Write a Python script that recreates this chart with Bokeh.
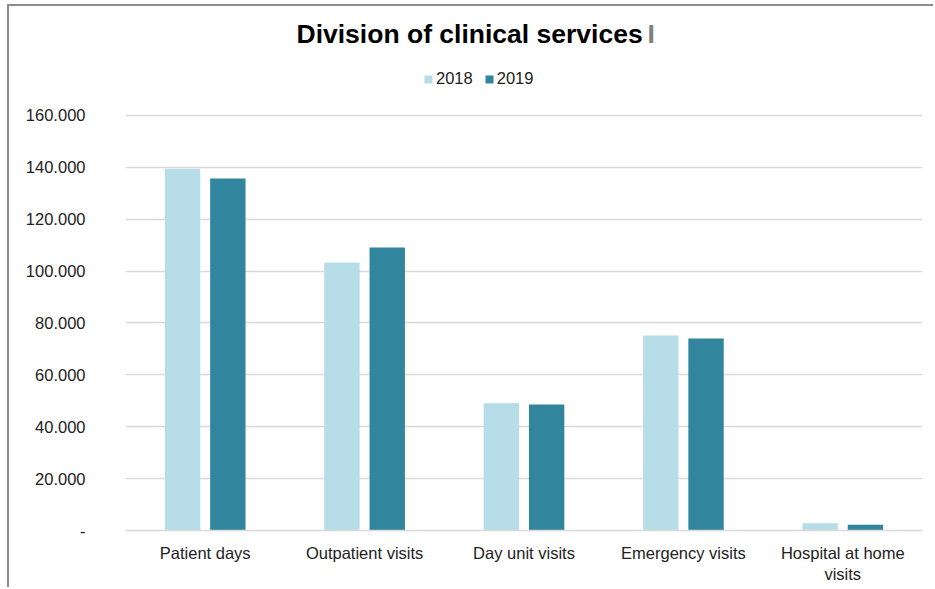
from bokeh.plotting import figure
from bokeh.models import (FactorRange, Legend, LegendItem, Label, ColumnDataSource,
                          FixedTicker, CustomJSTickFormatter, Range1d)
from bokeh.transform import dodge
from bokeh.embed import file_html
from bokeh.resources import INLINE

# ---- data ----
categories = ["Patient days", "Outpatient visits", "Day unit visits",
              "Emergency visits", "Hospital at home\nvisits"]
values_2018 = [139500, 103300, 49100, 75200, 2800]
values_2019 = [135700, 109100, 48600, 74000, 2200]
series_names = ["2018", "2019"]
y_ticks = [0, 20000, 40000, 60000, 80000, 100000, 120000, 140000, 160000]
y_tick_labels = ["-", "20.000", "40.000", "60.000", "80.000", "100.000",
                 "120.000", "140.000", "160.000"]
title_text = "Division of clinical services"
title_suffix = "I"

FONT = "Liberation Sans"
C18 = "#b7dee8"
C19 = "#31859c"
GRID = "#d9d9d9"
FS = "16.5px"

src = ColumnDataSource(dict(cat=categories, v2018=values_2018, v2019=values_2019))

# frame extends up to the top of the canvas so the title and legend sit inside it
p = figure(x_range=FactorRange(*categories), y_range=Range1d(0, 202020),
           width=926, height=583, output_backend="svg", toolbar_location=None,
           min_border_left=116, min_border_right=13, min_border_top=0,
           min_border_bottom=59)

r1 = p.vbar(x=dodge("cat", -0.142, range=p.x_range), top="v2018", width=0.222,
            source=src, fill_color=C18, line_color=None)
r2 = p.vbar(x=dodge("cat", 0.142, range=p.x_range), top="v2019", width=0.222,
            source=src, fill_color=C19, line_color=None)

p.outline_line_color = None
p.xgrid.grid_line_color = None
p.ygrid.grid_line_color = GRID
p.ygrid.grid_line_width = 1.5
p.ygrid.ticker = FixedTicker(ticks=y_ticks)

p.yaxis.ticker = FixedTicker(ticks=y_ticks)
p.yaxis.formatter = CustomJSTickFormatter(
    args=dict(tvals=y_ticks, tlabels=y_tick_labels),
    code="const i = tvals.indexOf(tick); return i >= 0 ? tlabels[i] : '';")
p.yaxis.axis_line_color = None
p.yaxis.major_tick_line_color = None
p.yaxis.minor_tick_line_color = None
p.yaxis.major_label_standoff = 34
p.yaxis.major_label_text_font = FONT
p.yaxis.major_label_text_font_size = FS
p.yaxis.major_label_text_color = "#222222"

p.xaxis.axis_line_color = GRID
p.xaxis.axis_line_width = 1.5
p.xaxis.major_tick_line_color = None
p.xaxis.minor_tick_line_color = None
p.xaxis.major_label_standoff = 7
p.xaxis.major_label_text_font = FONT
p.xaxis.major_label_text_font_size = FS
p.xaxis.major_label_text_color = "#222222"

legend = Legend(items=[LegendItem(label=series_names[0], renderers=[r1]),
                       LegendItem(label=series_names[1], renderers=[r2])],
                orientation="horizontal", location=(298, 442), padding=0, margin=0,
                spacing=11, glyph_width=10, glyph_height=10, label_height=10,
                label_standoff=3, label_text_font=FONT, label_text_font_size=FS,
                label_text_color="#222222", border_line_color=None,
                background_fill_alpha=0)
p.add_layout(legend)

p.add_layout(Label(x=1.0728, y=191600, text=title_text, text_font=FONT,
                   text_font_style="bold", text_font_size="26.5px", text_align="left",
                   text_baseline="alphabetic", text_color="#000000"))
p.add_layout(Label(x=3.2748, y=191600, text=title_suffix, text_font=FONT,
                   text_font_style="bold", text_font_size="26.5px", text_align="left",
                   text_baseline="alphabetic", text_color="#808080"))

p.styles = {"border-top": "2px solid #8c8c8c", "border-left": "2px solid #8c8c8c",
            "margin-left": "7px", "margin-top": "4px"}

open("out.html", "w").write(file_html(p, INLINE))
